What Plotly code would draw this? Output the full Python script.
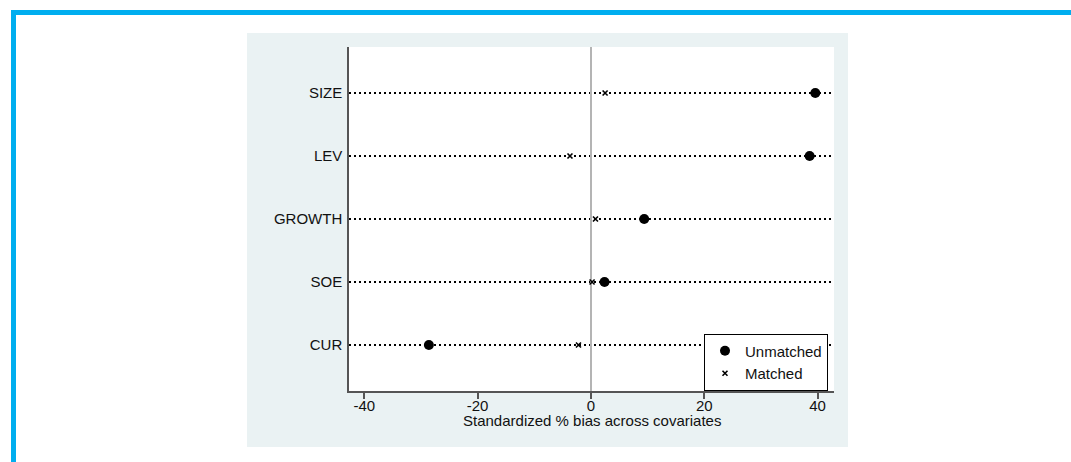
import plotly.graph_objects as go

# Covariates (top to bottom) and standardized % bias before/after matching
covariates = ["SIZE", "LEV", "GROWTH", "SOE", "CUR"]
bias_unmatched = [39.6, 38.6, 9.4, 2.4, -28.6]
bias_matched = [2.5, -3.7, 0.8, 0.2, -2.2]
x_ticks = [-40, -20, 0, 20, 40]

# Figure geometry (pixels)
W, H = 1071, 462
L, R, T, B = 349, 834, 47, 391


def px_x(p):
    return (p - L) / (R - L)


def px_y(p):
    return (B - p) / (B - T)


FONT = "Liberation Sans, Arial, sans-serif"
PANEL = "#EAF2F3"
BLUE = "#00AEEF"
INK = "#111111"

fig = go.Figure()

fig.add_trace(go.Scatter(
    x=bias_unmatched, y=covariates, mode="markers", name="Unmatched",
    marker=dict(symbol="circle", size=10, color="black"),
))
fig.add_trace(go.Scatter(
    x=bias_matched, y=covariates, mode="markers", name="Matched",
    marker=dict(symbol="x-thin", size=5, color="black",
                line=dict(width=1.6, color="black")),
))

shapes = [
    # graph region panel
    dict(type="rect", xref="paper", yref="paper", layer="below",
         x0=px_x(247), x1=px_x(848), y0=px_y(447), y1=px_y(33),
         fillcolor=PANEL, line=dict(width=0)),
    # white plot region
    dict(type="rect", xref="paper", yref="paper", layer="below",
         x0=0, x1=1, y0=0, y1=1, fillcolor="white", line=dict(width=0)),
    # blue frame: top and left edges
    dict(type="rect", xref="paper", yref="paper", layer="above",
         x0=px_x(11), x1=px_x(W + 5), y0=px_y(15), y1=px_y(10),
         fillcolor=BLUE, line=dict(width=0)),
    dict(type="rect", xref="paper", yref="paper", layer="above",
         x0=px_x(11), x1=px_x(16), y0=px_y(H + 5), y1=px_y(10),
         fillcolor=BLUE, line=dict(width=0)),
]

fig.update_layout(
    width=W, height=H,
    margin=dict(l=L, r=W - R, t=T, b=H - B, pad=0),
    paper_bgcolor="white",
    plot_bgcolor="white",
    font=dict(family=FONT, size=15, color=INK),
    shapes=shapes,
    showlegend=True,
    legend=dict(
        x=px_x(828), xanchor="right", y=px_y(362), yanchor="middle",
        bgcolor="white", bordercolor="black", borderwidth=1,
        font=dict(family=FONT, size=15, color=INK),
        itemwidth=30, tracegroupgap=0,
    ),
    annotations=[dict(
        text="Standardized % bias across covariates",
        xref="paper", yref="paper", x=0.5, y=px_y(420),
        xanchor="center", yanchor="middle", showarrow=False,
        font=dict(family=FONT, size=15, color=INK),
    )],
)

fig.update_xaxes(
    range=[-42.7, 42.9], tickvals=x_ticks, ticktext=[str(v) for v in x_ticks],
    showgrid=False, zeroline=True, zerolinecolor="#b4b4b4", zerolinewidth=1.5,
    showline=True, linecolor="#555555", linewidth=1.5,
    ticks="outside", ticklen=6, tickwidth=1.5, tickcolor="#555555",
    ticklabelstandoff=-6, fixedrange=True,
)
fig.update_yaxes(
    type="category", categoryorder="array", categoryarray=covariates[::-1],
    range=[-0.73, 4.73],
    showgrid=True, gridcolor="black", gridwidth=1.5, griddash="2px,3px",
    zeroline=False, showline=True, linecolor="#555555", linewidth=1.5,
    ticks="", ticklabelstandoff=2, fixedrange=True,
)

fig.write_html("out.html")
